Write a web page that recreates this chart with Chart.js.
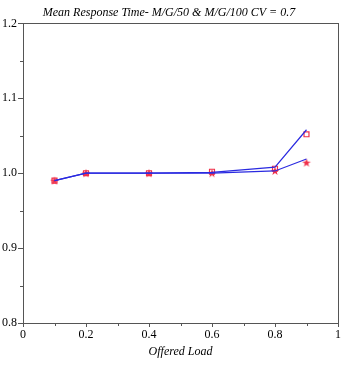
<!DOCTYPE html>
<html>
<head>
<meta charset="utf-8">
<script src="https://cdn.jsdelivr.net/npm/chart.js@4/dist/chart.umd.min.js"></script>
<style>
  html, body { margin: 0; padding: 0; background: #fff; }
  #wrap { width: 345px; height: 369px; }
</style>
</head>
<body>
<div id="wrap"><canvas id="chart" width="345" height="369"></canvas></div>
<script>
// 負荷 (Offered Load)
const loads = [0.1, 0.2, 0.4, 0.6, 0.8, 0.9];
// 解析値の線 (2本)
const lineA = [0.990, 1.000, 1.000, 1.001, 1.008, 1.058];
const lineB = [0.990, 1.000, 1.000, 1.000, 1.003, 1.019];
// シミュレーション点
const squarePts = [0.990, 1.000, 1.000, 1.002, 1.006, 1.052];
const starPts = [0.990, 1.000, 1.000, 1.000, 1.003, 1.014];
// 目盛り
const xTicks = [0, 0.2, 0.4, 0.6, 0.8, 1];
const yTicks = [0.8, 0.9, 1.0, 1.1, 1.2];

const toXY = (ys) => loads.map((x, i) => ({ x: x, y: ys[i] }));
const serif = "'Liberation Serif', 'DejaVu Serif', serif";

// 五角星のマーカー画像を作成
function makeStar() {
  const c = document.createElement("canvas");
  c.width = 10;
  c.height = 10;
  const g = c.getContext("2d");
  g.beginPath();
  for (let i = 0; i < 10; i++) {
    const r = i % 2 === 0 ? 4.5 : 1.8;
    const a = -Math.PI / 2 + i * Math.PI / 5;
    const px = 5 + r * Math.cos(a);
    const py = 5.3 + r * Math.sin(a);
    if (i === 0) g.moveTo(px, py); else g.lineTo(px, py);
  }
  g.closePath();
  g.fillStyle = "#f0304a";
  g.fill();
  return c;
}

// 枠線と副目盛りを描くプラグイン
const framePlugin = {
  id: "frame",
  afterDraw(chart) {
    const { ctx, chartArea: a, scales } = chart;
    ctx.save();
    ctx.strokeStyle = "#555";
    ctx.lineWidth = 1;
    ctx.strokeRect(Math.round(a.left) + 0.5, Math.round(a.top) + 0.5,
      Math.round(a.right - a.left), Math.round(a.bottom - a.top));
    ctx.beginPath();
    for (let v = 0.1; v < 1; v += 0.2) {
      const px = Math.round(scales.x.getPixelForValue(v)) + 0.5;
      ctx.moveTo(px, a.bottom);
      ctx.lineTo(px, a.bottom + 3);
    }
    for (let v = 0.85; v < 1.2; v += 0.1) {
      const py = Math.round(scales.y.getPixelForValue(v)) + 0.5;
      ctx.moveTo(a.left - 3, py);
      ctx.lineTo(a.left, py);
    }
    ctx.stroke();
    ctx.restore();
  }
};

new Chart(document.getElementById("chart"), {
  type: "scatter",
  data: {
    datasets: [
      {
        label: "M/G/50",
        data: toXY(lineA),
        showLine: true,
        borderColor: "#2a2ae0",
        borderWidth: 1.2,
        pointRadius: 0,
        fill: false
      },
      {
        label: "M/G/100",
        data: toXY(lineB),
        showLine: true,
        borderColor: "#2a2ae0",
        borderWidth: 1.2,
        pointRadius: 0,
        fill: false
      },
      {
        label: "sim 50",
        data: toXY(squarePts),
        pointStyle: "rect",
        pointRadius: 3.5,
        borderColor: "#f0304a",
        backgroundColor: "rgba(0,0,0,0)",
        pointBorderWidth: 1.2
      },
      {
        label: "sim 100",
        data: toXY(starPts),
        pointStyle: makeStar(),
        pointRadius: 4,
        borderColor: "#f0304a",
        backgroundColor: "#f0304a"
      }
    ]
  },
  options: {
    responsive: false,
    animation: false,
    layout: { padding: { top: 0, right: 7, bottom: 10, left: 0 } },
    plugins: {
      legend: { display: false },
      tooltip: { enabled: false },
      title: {
        display: true,
        text: "Mean Response Time- M/G/50 & M/G/100 CV = 0.7",
        color: "#000",
        font: { family: serif, size: 12, style: "italic", weight: "normal" },
        padding: { top: 6, bottom: 3 }
      }
    },
    scales: {
      x: {
        type: "linear",
        min: 0,
        max: 1,
        afterBuildTicks: (s) => { s.ticks = xTicks.map((v) => ({ value: v })); },
        afterFit: (s) => { s.height = 36; },
        grid: { display: true, drawOnChartArea: false, drawTicks: true, tickLength: 4, tickColor: "#555" },
        border: { display: false },
        ticks: {
          color: "#000",
          padding: 1,
          font: { family: serif, size: 12 },
          callback: (v) => String(Math.round(v * 10) / 10)
        },
        title: {
          display: true,
          text: "Offered Load",
          color: "#000",
          padding: { top: 0, bottom: 0 },
          font: { family: serif, size: 12, style: "italic" }
        }
      },
      y: {
        type: "linear",
        min: 0.8,
        max: 1.2,
        afterBuildTicks: (s) => { s.ticks = yTicks.map((v) => ({ value: v })); },
        afterFit: (s) => { s.width = 23; },
        grid: { display: true, drawOnChartArea: false, drawTicks: true, tickLength: 5, tickColor: "#555" },
        border: { display: false },
        ticks: {
          color: "#000",
          padding: 1,
          font: { family: serif, size: 12 },
          callback: (v) => v.toFixed(1)
        }
      }
    }
  },
  plugins: [framePlugin]
});
</script>
</body>
</html>
